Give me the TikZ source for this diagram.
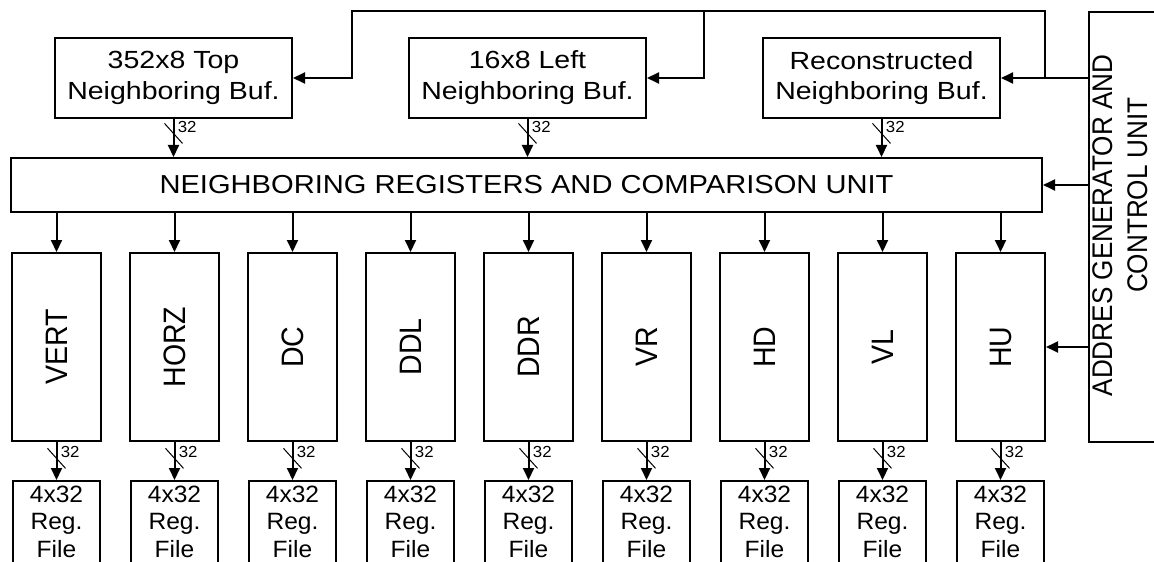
\documentclass[tikz,border=0pt]{standalone}
\usepackage{fontspec}
\setmainfont{Liberation Sans}
\newfontfamily\buffont{Liberation Sans}[FakeStretch=1.15]
\newfontfamily\unitfont{Liberation Sans}[FakeStretch=1.12]
\newfontfamily\regfont{Liberation Sans}[FakeStretch=1.04]
\newfontfamily\busfont{Liberation Sans}[FakeStretch=1.05]
\newfontfamily\rotfont{Liberation Sans}[FakeStretch=.92]
\usetikzlibrary{arrows.meta}
\tikzset{>={Triangle[length=6pt,width=5.5pt]},
 box/.style={draw,line width=1pt,inner sep=0pt},
 flow/.style={line width=1pt,->},
 bufbox/.style={box,minimum width=118.5pt,minimum height=40pt,align=center,font=\buffont\fontsize{12.4}{15.4}\selectfont},
 procbox/.style={box,minimum width=44.5pt,minimum height=94pt,font=\rotfont\fontsize{15.5}{18}\selectfont},
 regbox/.style={box,anchor=north,minimum width=43.5pt,inner ysep=2.5pt,text depth=4pt,align=center,font=\regfont\fontsize{11.8}{13.75}\selectfont},
 ctrltext/.style={rotate=90,inner sep=0pt,font=\rotfont\fontsize{14.2}{17}\selectfont},
 bus/.pic={\draw[line width=.5pt] (-9,-10)--(9,10);
  \node[anchor=base west,inner sep=0pt,font=\busfont\fontsize{8}{9}\selectfont] (-w) at (4,-1) {32};}}
\begin{document}
\begin{tikzpicture}[x=.5pt,y=-.5pt]
\useasboundingbox (0,0) rectangle (1154,561);
\clip (0,0) rectangle (1154,561);
% Neighboring buffers and the register unit below them.
\node[bufbox] (topbuf) at (173.5,78) {352x8 Top\\Neighboring Buf.};
\node[bufbox] (leftbuf) at (527.5,78) {16x8 Left\\Neighboring Buf.};
\node[bufbox] (recbuf) at (881.5,78) {Reconstructed\\Neighboring Buf.};
\node[box,minimum width=515.5pt,minimum height=27pt,font=\unitfont\fontsize{13}{15}\selectfont] (nrcu) at (526.5,185)
 {NEIGHBORING REGISTERS AND COMPARISON UNIT};
\foreach \b in {topbuf,leftbuf,recbuf}{
 \draw[flow] (\b.south) -- (\b.south |- nrcu.north) coordinate[pos=.38] (m\b);
 \pic (w\b) at (m\b) {bus};
}
% Control unit, cut by the right edge.
\node[box,anchor=north west,minimum width=60pt,minimum height=215pt] (ctrl) at (1088,11) {};
\node[ctrltext] (ctrla) at (1103,225.5) {ADDRES GENERATOR AND};
\node[ctrltext] (ctrlb) at (1138,195) {CONTROL UNIT};
% Prediction modes, each with its register file.
\foreach \mode [count=\i from 0] in {VERT,HORZ,DC,DDL,DDR,VR,HD,VL,HU}{
 \node[procbox] (p\i) at (56.5+118*\i,347) {\rotatebox{90}{\mode}};
 \node[regbox] (r\i) at (56.5+118*\i,480) {4x32\\Reg.\\File};
 \draw[flow] (nrcu.south -| p\i.north) -- (p\i.north);
 \draw[flow] (p\i.south) -- (r\i.north) coordinate[pos=.43] (m\i);
 \pic (w\i) at (m\i) {bus};
}
% Control lines.
\coordinate (jct) at (1045,78);
\coordinate (top1) at (352,11);
\coordinate (top2) at (704,11);
\draw[flow] (ctrl.west |- recbuf.east) -- (recbuf.east);
\draw[flow] (jct) |- (top1) |- (topbuf.east);
\draw[flow] (top2) |- (leftbuf.east);
\draw[flow] (ctrl.west |- nrcu.east) -- (nrcu.east);
\draw[flow] (ctrl.west |- p8.east) -- (p8.east);
\end{tikzpicture}
\end{document}
